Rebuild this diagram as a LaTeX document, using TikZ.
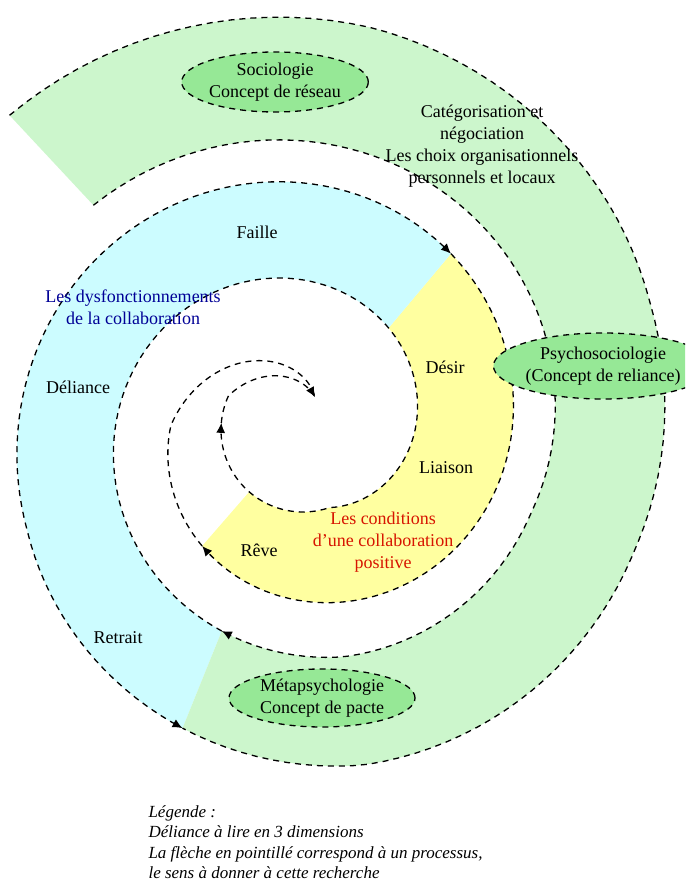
\documentclass[tikz,border=0pt]{standalone}
\usepackage{fontspec}
\setmainfont{Liberation Serif}
\usetikzlibrary{arrows.meta,shapes.geometric}

\definecolor{bandgreen}{RGB}{204,246,204}
\definecolor{ovalgreen}{RGB}{150,232,150}
\definecolor{bandblue}{RGB}{204,252,255}
\definecolor{bandyellow}{RGB}{255,255,160}
\definecolor{navytext}{RGB}{0,0,150}
\definecolor{redtext}{RGB}{215,20,0}

\tikzset{
  declare function={
    sh(\ang)=13*min(1,max(0,(\ang-640)/60));
    wid(\ang)=97+13*min(1,max(0,(\ang-560)/80))+13*min(1,max(0,(\ang-740)/60));
    rin(\ang)=max(-40+0.4224*\ang-sh(\ang),min(82,35+0.55*(\ang-70)));
    rout(\ang)=min(-40+0.4224*\ang-sh(\ang)+wid(\ang),35+0.9*(\ang-70));
  },
  rim/.style={line width=1.3pt,dash pattern=on 6pt off 5pt},
  oval/.style={ellipse,draw,rim,fill=ovalgreen,align=center,inner sep=0pt},
  lbl/.style={font=\fontsize{18}{22}\selectfont,align=center},
}

\begin{document}
\begin{tikzpicture}[x=1pt,y=1pt,>={Latex[length=10pt,width=9pt]}]
\useasboundingbox (0,0) rectangle (685,888);
\clip (0,0) rectangle (685,888);
\coordinate (C) at (303,458);

\begin{scope}[shift={(C)}]
% coloured parts of the spiral
\foreach \from/\to/\col in {229/410/bandyellow, 410/608/bandblue, 608/853/bandgreen}
  \fill[\col] plot[domain=\from:\to,samples=80,variable=\ang] (\ang:{rin(\ang)})
    -- plot[domain=\to:\from,samples=80,variable=\ang] (\ang:{rout(\ang)}) -- cycle;
% inner edge
\draw[rim,->] plot[domain=853:608,samples=90,variable=\ang] (\ang:{rin(\ang)});
\draw[rim,->] plot[domain=608:175,samples=160,variable=\ang] (\ang:{rin(\ang)});
\draw[rim,->] plot[domain=175:70,samples=60,variable=\ang] (\ang:{rin(\ang)});
% outer edge
\draw[rim] plot[domain=853:608,samples=90,variable=\ang] (\ang:{rout(\ang)});
\draw[rim,<->] plot[domain=410:608,samples=80,variable=\ang] (\ang:{rout(\ang)});
\draw[rim,->] plot[domain=410:229,samples=80,variable=\ang] (\ang:{rout(\ang)});
\draw[rim] plot[domain=229:70,samples=80,variable=\ang] (\ang:{rout(\ang)});
\end{scope}

% the three approaches
\node[oval,minimum width=184pt,minimum height=60pt,lbl] (socio) at (275,806) {Sociologie\\Concept de réseau};
\node[oval,minimum width=165pt,minimum height=66pt,lbl] (psycho) at (603,522) {Psychosociologie\\(Concept de reliance)};
\node[oval,minimum width=186pt,minimum height=58pt,lbl] (meta) at (322,190) {Métapsychologie\\Concept de pacte};
\node[lbl] (categ) at (482,742) {Catégorisation et\\négociation\\Les choix organisationnels\\personnels et locaux};

% blue part
\node[lbl] (faille) at (257,656) {Faille};
\node[lbl,text=navytext] (dysf) at (133,581) {Les dysfonctionnements\\de la collaboration};
\node[lbl] (deliance) at (78,501) {Déliance};
\node[lbl] (retrait) at (118,250) {Retrait};

% yellow part
\node[lbl] (desir) at (445,521) {Désir};
\node[lbl] (liaison) at (446,420) {Liaison};
\node[lbl,text=redtext] (cond) at (383,346) {Les conditions\\d'une collaboration\\positive};
\node[lbl] (reve) at (259,338) {Rêve};

% legend
\node[anchor=north west,align=left,font=\fontsize{17}{20.5}\selectfont\itshape] (key) at (145,86)
  {Légende :\\Déliance à lire en 3 dimensions\\La flèche en pointillé correspond à un processus,\\le sens à donner à cette recherche};
\end{tikzpicture}
\end{document}
